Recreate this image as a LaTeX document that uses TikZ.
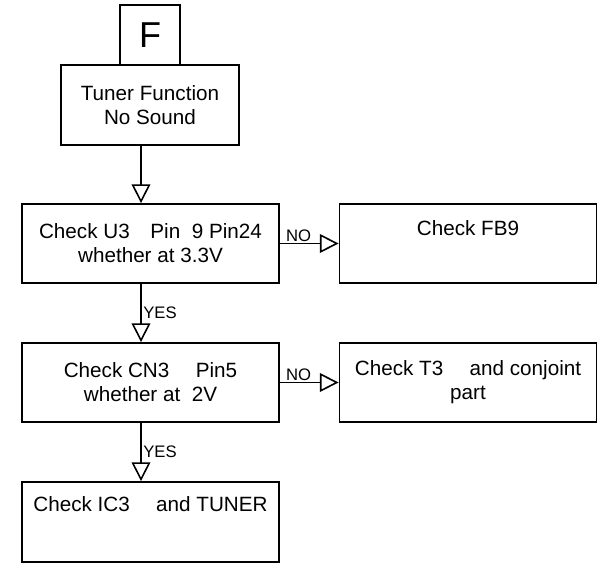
\documentclass[tikz,border=0pt]{standalone}
\usepackage{fontspec}
\setmainfont{Liberation Sans}
\usetikzlibrary{arrows.meta}
\tikzset{
  chkbox/.style={draw,line width=1.4pt,align=center,inner sep=0pt,
    minimum width=192.75pt,minimum height=59.25pt,
    font=\fontsize{15.5}{18}\selectfont},
  flow/.style={line width=1.4pt,
    -{Triangle[open,length=14pt,width=14pt,line width=1.2pt]}},
  tag/.style={font=\fontsize{12.5}{14}\selectfont,inner sep=1pt}
}

\begin{document}
\begin{tikzpicture}[x=0.75pt,y=-0.75pt]
\useasboundingbox (0,0) rectangle (604,573);
% title and start
\node[draw,line width=1.4pt,minimum size=45pt,inner sep=0pt,
      font=\fontsize{27}{30}\selectfont] (f) at (150,35) {F};
\node[chkbox,minimum width=133.5pt,minimum height=60pt] (tuner) at (150,105)
  {Tuner Function\\ No Sound};
% checks
\node[chkbox] (u3)  at (150.5,243.5) {Check U3\quad Pin\ \ 9 Pin24\\ whether at 3.3V};
\node[chkbox] (fb9) at (468,243.5)   {Check FB9\\ \strut};
\node[chkbox] (cn3) at (150.5,382.5) {Check CN3\quad\ Pin5\\ whether at\ \ 2V};
\node[chkbox] (t3)  at (468,382.5)   {Check T3\quad\ and conjoint\\ part};
\node[chkbox,minimum height=60pt] (ic3) at (150.5,522)
  {Check IC3\quad\ and TUNER\\[4pt] \strut};
% connectors
\coordinate (ax) at (141,0);
\draw[flow] (ax |- tuner.south) -- (ax |- u3.north);
\draw[flow] (ax |- u3.south) -- node[tag,anchor=west] {YES} (ax |- cn3.north);
\draw[flow] (ax |- cn3.south) -- node[tag,anchor=west] {YES} (ax |- ic3.north);
\draw[flow] (u3.east) -- node[tag,above,pos=0.32] {NO} (fb9.west);
\draw[flow] (cn3.east) -- node[tag,above,pos=0.32] {NO} (t3.west);
\end{tikzpicture}
\end{document}
